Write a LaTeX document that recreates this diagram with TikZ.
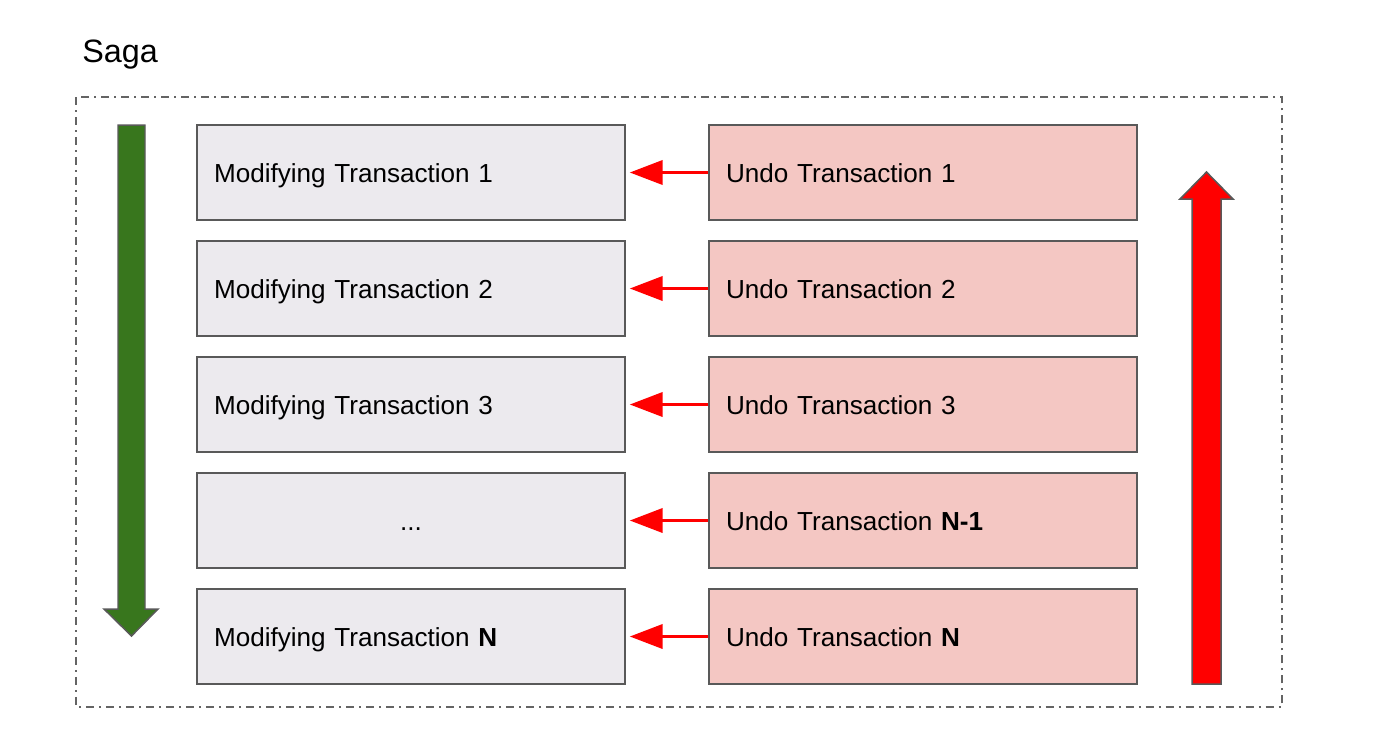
\documentclass[tikz,border=0pt]{standalone}
\usepackage{fontspec}
\setmainfont{Liberation Sans}
\usepackage{xcolor}
\usepackage{tikz}
\usetikzlibrary{
  arrows.meta,
  positioning
}
\definecolor{forwardgreen}{RGB}{56,118,29}
\definecolor{undored}{RGB}{255,0,0}
\definecolor{modfill}{RGB}{236,234,238}
\definecolor{undofill}{RGB}{244,199,195}
\definecolor{edgegray}{RGB}{89,89,89}
\definecolor{framegray}{RGB}{100,100,100}
\tikzset{
  txbox/.style={
    draw=edgegray,
    line width=0.85pt,
    minimum height=1.9cm,
    minimum width=8.56cm,
    text width=7.88cm,
    inner sep=0.34cm,
    align=left,
    font=\fontsize{14.85pt}{18pt}\selectfont,
    execute at begin node={\rule[-0.3em]{0pt}{1.35em}}
  },
  modbox/.style={txbox,fill=modfill},
  undobox/.style={txbox,fill=undofill},
  undoarrow/.style={-{Triangle[length=6.6mm,width=4.8mm]},line width=2.2pt,draw=undored,shorten >=0.08cm},
  bigarrow/.style={draw=edgegray,line width=0.85pt,line join=miter},
  sagaframe/.style={draw=framegray,line width=0.7pt,dash pattern=on 0.16cm off 0.1cm on 0.04cm off 0.1cm},
}

\begin{document}
\begin{tikzpicture}[x=0.02cm,y=-0.02cm]
  \useasboundingbox (0,0) rectangle (1387,728);

  % Title and frame
  \node[anchor=base west,inner sep=0pt,font=\fontsize{18.4pt}{22pt}\selectfont] (title) at (82,62) {Saga};
  \draw[sagaframe] (76,97) rectangle (1282,707);

  % Modifying transactions
  \node[modbox] (m1) at (411,172.5) {Modifying Transaction 1};
  \node[modbox] (m2) at (411,288.5) {Modifying Transaction 2};
  \node[modbox] (m3) at (411,404.5) {Modifying Transaction 3};
  \node[modbox,align=center] (m4) at (411,520.5) {...};
  \node[modbox] (m5) at (411,636.5) {Modifying Transaction \textbf{N}};

  % Undo transactions
  \node[undobox] (u1) at (923,172.5) {Undo Transaction 1};
  \node[undobox] (u2) at (923,288.5) {Undo Transaction 2};
  \node[undobox] (u3) at (923,404.5) {Undo Transaction 3};
  \node[undobox] (u4) at (923,520.5) {Undo Transaction \textbf{N-1}};
  \node[undobox] (u5) at (923,636.5) {Undo Transaction \textbf{N}};

  \draw[undoarrow] (u1) -- (m1);
  \draw[undoarrow] (u2) -- (m2);
  \draw[undoarrow] (u3) -- (m3);
  \draw[undoarrow] (u4) -- (m4);
  \draw[undoarrow] (u5) -- (m5);

  % Direction arrows
  \filldraw[bigarrow,fill=forwardgreen] (118,125) -- (145,125) -- (145,609) -- (158,609)
    -- (131.5,636) -- (104,609) -- (118,609) -- cycle;
  \filldraw[bigarrow,fill=undored] (1192,684) -- (1221,684) -- (1221,199) -- (1233,199)
    -- (1206.5,172) -- (1180,199) -- (1192,199) -- cycle;
\end{tikzpicture}
\end{document}
